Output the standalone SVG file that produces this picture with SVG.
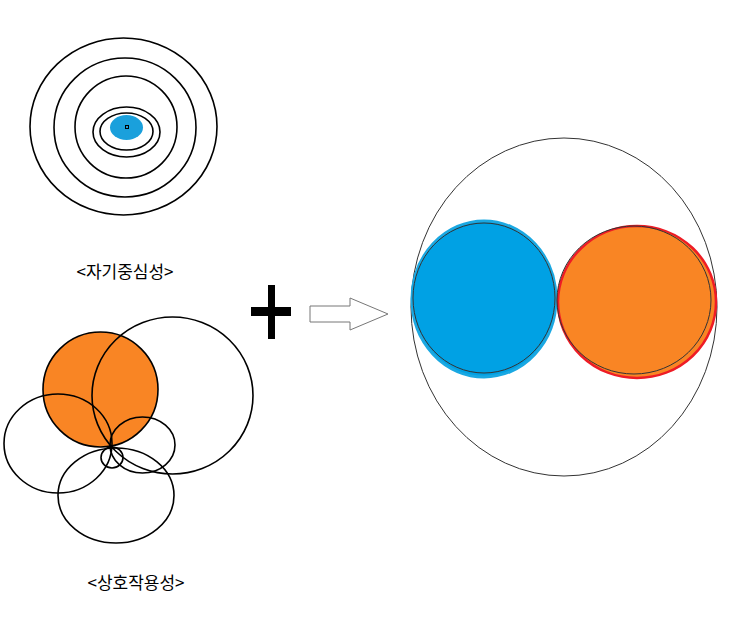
<svg xmlns="http://www.w3.org/2000/svg" width="740" height="618" viewBox="0 0 740 618">
<style>
.k{fill:none;stroke:#000;stroke-width:1.6}
.t{font-family:"Noto Sans CJK KR","Liberation Sans",sans-serif;font-size:17px;fill:#000;text-anchor:middle}
</style>
<rect width="740" height="618" fill="#fff"/>
<g id="egocentric">
<ellipse cx="126.5" cy="127.5" rx="16.5" ry="12.5" fill="#1aa0dc"/>
<rect x="125.5" y="125.5" width="3" height="3" fill="none" stroke="#000" stroke-width="1"/>
<ellipse class="k" cx="123.5" cy="126.5" rx="93.5" ry="88.5"/>
<ellipse class="k" cx="125" cy="127.5" rx="71" ry="69.5"/>
<ellipse class="k" cx="126" cy="127" rx="51" ry="51"/>
<ellipse class="k" cx="126.5" cy="132" rx="33.5" ry="25"/>
<ellipse class="k" cx="126.5" cy="131.5" rx="26.5" ry="18.5"/>
<text class="t" x="125" y="278">&lt;자기중심성&gt;</text>
</g>
<g id="interaction">
<circle cx="100.5" cy="389.5" r="57.5" fill="#f98524"/>
<circle class="k" cx="100.5" cy="389.5" r="57.5"/>
<ellipse class="k" cx="172.5" cy="395.5" rx="80.5" ry="78.5"/>
<ellipse class="k" cx="58" cy="443.5" rx="54" ry="49.5"/>
<ellipse class="k" cx="142.5" cy="445" rx="32.5" ry="28"/>
<ellipse class="k" cx="116" cy="495.5" rx="58" ry="47.5"/>
<ellipse class="k" cx="112" cy="457.5" rx="11" ry="10.5"/>
<text class="t" x="136" y="589">&lt;상호작용성&gt;</text>
</g>
<g id="plus">
<rect x="268" y="285" width="7" height="54" fill="#000"/>
<rect x="251" y="307" width="40" height="9" fill="#000"/>
</g>
<g id="connectors">
<polygon points="310,306 350,306 350,298 388,314 350,330 350,322 310,322" fill="#fff" stroke="#777" stroke-width="1"/>
</g>
<g id="result">
<ellipse cx="564" cy="307" rx="153" ry="169" fill="none" stroke="#333" stroke-width="1"/>
<ellipse cx="484" cy="299" rx="72" ry="78" fill="#00a1e4" stroke="#1aa8e2" stroke-width="3"/>
<ellipse cx="484" cy="298" rx="71" ry="75" fill="none" stroke="#333" stroke-width="1"/>
<ellipse cx="637" cy="302" rx="79" ry="76" fill="#f98524" stroke="#ee1c25" stroke-width="2.5"/>
<ellipse cx="634" cy="300" rx="77" ry="74" fill="none" stroke="#333" stroke-width="1"/>
</g>
</svg>
